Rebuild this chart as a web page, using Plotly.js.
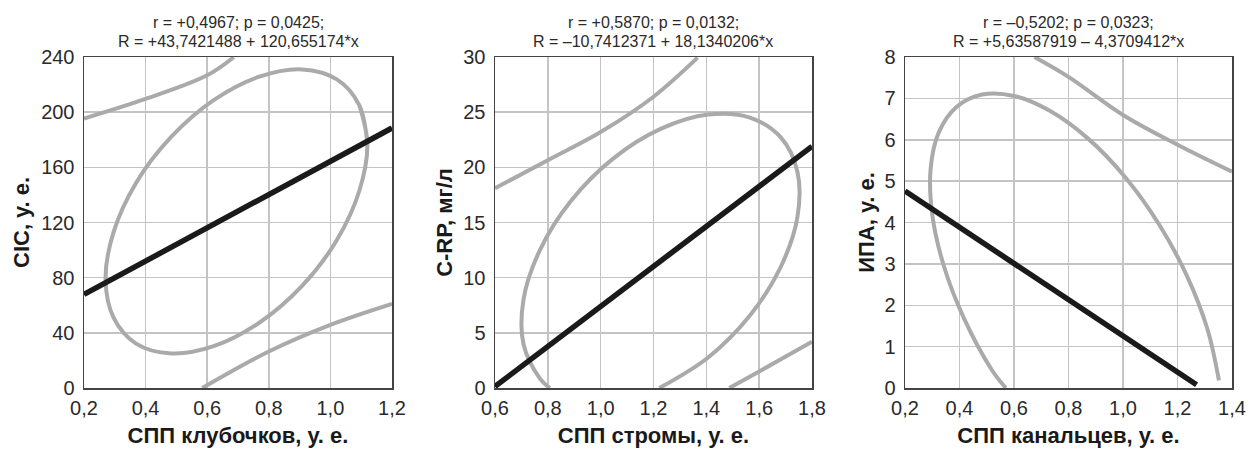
<!DOCTYPE html>
<html>
<head>
<meta charset="utf-8">
<script src="https://cdn.plot.ly/plotly-3.0.1.min.js"></script>
<style>html,body{margin:0;padding:0;background:#fff;}#chart{width:1251px;height:451px;}</style>
</head>
<body>
<div id="chart"></div>
<script>
// Panel 1: СПП клубочков vs CIC
const p1Title1 = "r = +0,4967; p = 0,0425;";
const p1Title2 = "R = +43,7421488 + 120,655174*x";
const p1XTitle = "СПП клубочков, у. е.";
const p1YTitle = "CIC, у. е.";
const p1LineX = [0.2, 1.2];
const p1LineY = [67.9, 188.5];
const p1EllX = [1.120, 1.094, 1.021, 0.908, 0.769, 0.621, 0.483, 0.369, 0.296, 0.270, 0.296, 0.369, 0.483, 0.621, 0.769, 0.908, 1.021, 1.094, 1.120, 1.094];
const p1EllY = [177.0, 205.0, 223.8, 231.0, 225.7, 208.7, 182.0, 148.7, 113.0, 79.0, 51.0, 32.2, 25.0, 30.3, 47.3, 74.0, 107.3, 143.0, 177.0, 205.0];
const p1UpX = [0.2, 0.4, 0.6, 0.686];
const p1UpY = [195.4, 209.6, 226.7, 239.8];
const p1LoX = [0.584, 0.8, 1.0, 1.2];
const p1LoY = [0, 26.5, 45.8, 61];

// Panel 2: СПП стромы vs C-RP
const p2Title1 = "r = +0,5870; p = 0,0132;";
const p2Title2 = "R = –10,7412371 + 18,1340206*x";
const p2XTitle = "СПП стромы, у. е.";
const p2YTitle = "C-RP, мг/л";
const p2LineX = [0.6, 1.8];
const p2LineY = [0.14, 21.9];
const p2EllX = [1.222, 1.407, 1.565, 1.682, 1.745, 1.745, 1.682, 1.565, 1.407, 1.227, 1.046, 0.888, 0.771, 0.708, 0.708, 0.771, 0.808];
const p2EllY = [0, 2.77, 6.57, 10.99, 15.51, 19.58, 22.71, 24.51, 24.78, 23.48, 20.77, 16.97, 12.55, 8.03, 3.96, 0.83, 0];
const p2UpX = [0.6, 0.8, 1.0, 1.2, 1.367];
const p2UpY = [18.1, 20.65, 23.2, 26.4, 29.94];
const p2LoX = [1.487, 1.6, 1.8];
const p2LoY = [0, 1.5, 4.2];

// Panel 3: СПП канальцев vs ИПА
const p3Title1 = "r = –0,5202; p = 0,0323;";
const p3Title2 = "R = +5,63587919 – 4,3709412*x";
const p3XTitle = "СПП канальцев, у. е.";
const p3YTitle = "ИПА, у. е.";
const p3LineX = [0.2, 1.27];
const p3LineY = [4.76, 0.08];
const p3EllX = [1.352, 1.310, 1.235, 1.132, 1.009, 0.873, 0.733, 0.600, 0.483, 0.389, 0.324, 0.294, 0.300, 0.342, 0.417, 0.520, 0.570];
const p3EllY = [0.185, 1.419, 2.705, 3.957, 5.088, 6.021, 6.694, 7.059, 7.093, 6.793, 6.178, 5.292, 4.195, 2.961, 1.675, 0.423, 0];
const p3UpX = [0.675, 0.8, 1.0, 1.2, 1.4];
const p3UpY = [8, 7.52, 6.6, 5.88, 5.23];

const ellColor = '#aaaaaa';
const lineColor = '#1a1a1a';
const ell = (x, y, xa, ya) => ({x, y, xaxis: xa, yaxis: ya, mode: 'lines', line: {color: ellColor, width: 4, shape: 'spline', smoothing: 1}, hoverinfo: 'skip'});
const reg = (x, y, xa, ya) => ({x, y, xaxis: xa, yaxis: ya, mode: 'lines', line: {color: lineColor, width: 5.5}, hoverinfo: 'skip'});

const data = [
  ell(p1EllX, p1EllY, 'x', 'y'), ell(p1UpX, p1UpY, 'x', 'y'), ell(p1LoX, p1LoY, 'x', 'y'), reg(p1LineX, p1LineY, 'x', 'y'),
  ell(p2EllX, p2EllY, 'x2', 'y2'), ell(p2UpX, p2UpY, 'x2', 'y2'), ell(p2LoX, p2LoY, 'x2', 'y2'), reg(p2LineX, p2LineY, 'x2', 'y2'),
  ell(p3EllX, p3EllY, 'x3', 'y3'), ell(p3UpX, p3UpY, 'x3', 'y3'), reg(p3LineX, p3LineY, 'x3', 'y3')
];

const font = 'Liberation Sans, Arial, Helvetica, sans-serif';
const tickFont = {family: font, size: 20, color: '#2a2a2a'};
const axTitleFont = {family: font, size: 22, color: '#1a1a1a', weight: 'bold'};
function xax(dom, range, title, anchor) {
  return {domain: dom, range, dtick: 0.2, tick0: range[0], anchor, showgrid: true, gridcolor: '#c4c4c4', gridwidth: 1.5,
    showline: true, mirror: true, linecolor: '#444', linewidth: 1.5, zeroline: false, ticks: '', tickformat: '.1f',
    ticklabelstandoff: 1,
    tickfont: tickFont, title: {text: '<b>' + title + '</b>', font: axTitleFont, standoff: 10}, fixedrange: true};
}
function yax(dom, range, dtick, title, anchor, standoff) {
  return {domain: dom, range, dtick, tick0: 0, anchor, showgrid: true, gridcolor: '#c4c4c4', gridwidth: 1.5,
    showline: true, mirror: true, linecolor: '#444', linewidth: 1.5, zeroline: false, ticks: '', tickformat: 'd',
    ticklabelstandoff: 4,
    tickfont: tickFont, title: {text: '<b>' + title + '</b>', font: axTitleFont, standoff}, fixedrange: true};
}
const yDom = [1 - 388/451, 1 - 57/451];
const d1 = [84/1251, 392/1251], d2 = [495/1251, 812/1251], d3 = [905/1251, 1232/1251];
const titleFont = {family: font, size: 16, color: '#2a2a2a'};
const ann = (text, dom, yc) => ({text, xref: 'paper', yref: 'paper', x: (dom[0] + dom[1]) / 2, y: 1 - yc/451, xanchor: 'center', yanchor: 'middle', showarrow: false, font: titleFont});

const layout = {
  width: 1251, height: 451, margin: {l: 0, r: 0, t: 0, b: 0}, showlegend: false,
  paper_bgcolor: '#fff', plot_bgcolor: '#fff', separators: ', ',
  xaxis: xax(d1, [0.2, 1.2], p1XTitle, 'y'),
  yaxis: yax(yDom, [0, 240], 40, p1YTitle, 'x', 5),
  xaxis2: xax(d2, [0.6, 1.8], p2XTitle, 'y2'),
  yaxis2: yax(yDom, [0, 30], 5, p2YTitle, 'x2', 4),
  xaxis3: xax(d3, [0.2, 1.4], p3XTitle, 'y3'),
  yaxis3: yax(yDom, [0, 8], 1, p3YTitle, 'x3', 3),
  annotations: [
    ann(p1Title1, d1, 22.5), ann(p1Title2, d1, 41.5),
    ann(p2Title1, d2, 22.5), ann(p2Title2, d2, 41.5),
    ann(p3Title1, d3, 22.5), ann(p3Title2, d3, 41.5)
  ]
};
Plotly.newPlot('chart', data, layout, {displayModeBar: false, staticPlot: true});
</script>
</body>
</html>
